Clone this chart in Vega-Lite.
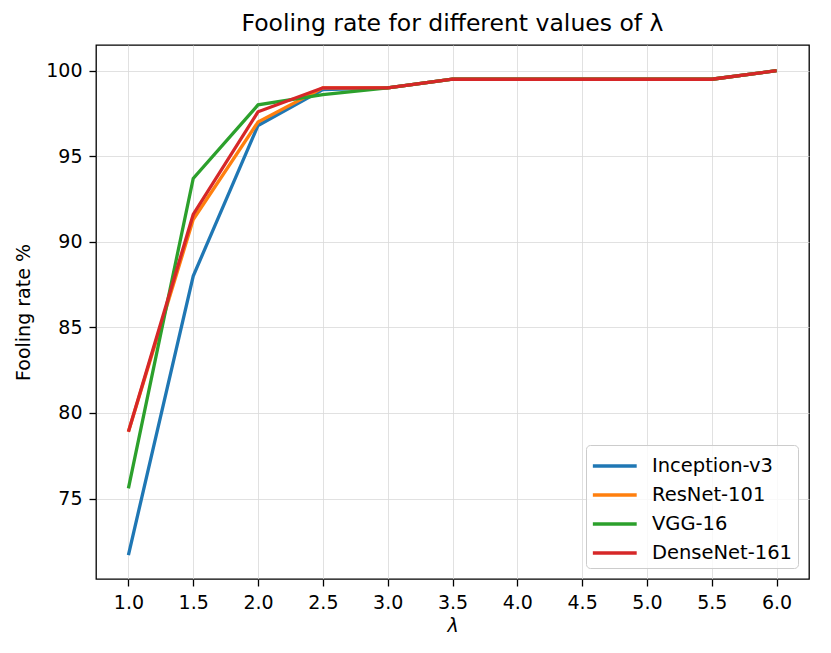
{
  "$schema": "https://vega.github.io/schema/vega-lite/v6.json",
  "autosize": {"type": "none"},
  "padding": {"left": 96, "top": 45, "right": 22, "bottom": 74},
  "width": 713,
  "height": 534,
  "background": "white",
  "title": {
    "text": "Fooling rate for different values of λ",
    "font": "DejaVu Sans",
    "fontSize": 23.5,
    "fontWeight": "normal",
    "color": "black",
    "offset": 10
  },
  "data": {
    "values": [
      {"lambda": 1.0, "model": "Inception-v3", "rate": 71.7},
      {"lambda": 1.5, "model": "Inception-v3", "rate": 88.0},
      {"lambda": 2.0, "model": "Inception-v3", "rate": 96.8},
      {"lambda": 2.5, "model": "Inception-v3", "rate": 98.9},
      {"lambda": 3.0, "model": "Inception-v3", "rate": 99.0},
      {"lambda": 3.5, "model": "Inception-v3", "rate": 99.5},
      {"lambda": 4.0, "model": "Inception-v3", "rate": 99.5},
      {"lambda": 4.5, "model": "Inception-v3", "rate": 99.5},
      {"lambda": 5.0, "model": "Inception-v3", "rate": 99.5},
      {"lambda": 5.5, "model": "Inception-v3", "rate": 99.5},
      {"lambda": 6.0, "model": "Inception-v3", "rate": 100.0},
      {"lambda": 1.0, "model": "ResNet-101", "rate": 78.9},
      {"lambda": 1.5, "model": "ResNet-101", "rate": 91.3},
      {"lambda": 2.0, "model": "ResNet-101", "rate": 97.0},
      {"lambda": 2.5, "model": "ResNet-101", "rate": 99.0},
      {"lambda": 3.0, "model": "ResNet-101", "rate": 99.0},
      {"lambda": 3.5, "model": "ResNet-101", "rate": 99.5},
      {"lambda": 4.0, "model": "ResNet-101", "rate": 99.5},
      {"lambda": 4.5, "model": "ResNet-101", "rate": 99.5},
      {"lambda": 5.0, "model": "ResNet-101", "rate": 99.5},
      {"lambda": 5.5, "model": "ResNet-101", "rate": 99.5},
      {"lambda": 6.0, "model": "ResNet-101", "rate": 100.0},
      {"lambda": 1.0, "model": "VGG-16", "rate": 75.6},
      {"lambda": 1.5, "model": "VGG-16", "rate": 93.7},
      {"lambda": 2.0, "model": "VGG-16", "rate": 98.0},
      {"lambda": 2.5, "model": "VGG-16", "rate": 98.6},
      {"lambda": 3.0, "model": "VGG-16", "rate": 99.0},
      {"lambda": 3.5, "model": "VGG-16", "rate": 99.5},
      {"lambda": 4.0, "model": "VGG-16", "rate": 99.5},
      {"lambda": 4.5, "model": "VGG-16", "rate": 99.5},
      {"lambda": 5.0, "model": "VGG-16", "rate": 99.5},
      {"lambda": 5.5, "model": "VGG-16", "rate": 99.5},
      {"lambda": 6.0, "model": "VGG-16", "rate": 100.0},
      {"lambda": 1.0, "model": "DenseNet-161", "rate": 78.9},
      {"lambda": 1.5, "model": "DenseNet-161", "rate": 91.6},
      {"lambda": 2.0, "model": "DenseNet-161", "rate": 97.6},
      {"lambda": 2.5, "model": "DenseNet-161", "rate": 99.0},
      {"lambda": 3.0, "model": "DenseNet-161", "rate": 99.0},
      {"lambda": 3.5, "model": "DenseNet-161", "rate": 99.5},
      {"lambda": 4.0, "model": "DenseNet-161", "rate": 99.5},
      {"lambda": 4.5, "model": "DenseNet-161", "rate": 99.5},
      {"lambda": 5.0, "model": "DenseNet-161", "rate": 99.5},
      {"lambda": 5.5, "model": "DenseNet-161", "rate": 99.5},
      {"lambda": 6.0, "model": "DenseNet-161", "rate": 100.0}
    ]
  },
  "mark": {"type": "line", "strokeWidth": 3.3, "clip": true},
  "encoding": {
    "x": {
      "field": "lambda",
      "type": "quantitative",
      "scale": {"domain": [0.75, 6.25], "nice": false, "zero": false},
      "axis": {
        "title": "λ",
        "titleFontStyle": "italic",
        "values": [1.0, 1.5, 2.0, 2.5, 3.0, 3.5, 4.0, 4.5, 5.0, 5.5, 6.0],
        "format": ".1f",
        "titlePadding": 4
      }
    },
    "y": {
      "field": "rate",
      "type": "quantitative",
      "scale": {"domain": [70.3, 101.5], "nice": false, "zero": false},
      "axis": {
        "title": "Fooling rate %",
        "values": [75, 80, 85, 90, 95, 100],
        "titlePadding": 12
      }
    },
    "color": {
      "field": "model",
      "type": "nominal",
      "sort": ["Inception-v3", "ResNet-101", "VGG-16", "DenseNet-161"],
      "scale": {
        "domain": ["Inception-v3", "ResNet-101", "VGG-16", "DenseNet-161"],
        "range": ["#1f77b4", "#ff7f0e", "#2ca02c", "#d62728"]
      },
      "legend": {
        "title": null,
        "orient": "bottom-right",
        "offset": 11,
        "symbolType": "M-1,0H2.1",
        "symbolStrokeWidth": 3.3,
        "symbolSize": 800,
        "labelFontSize": 19.5,
        "labelFont": "DejaVu Sans",
        "labelColor": "black",
        "labelOffset": 29,
        "rowPadding": 3,
        "padding": 5,
        "strokeColor": "#cccccc",
        "fillColor": "rgba(255,255,255,0.8)",
        "cornerRadius": 4
      }
    }
  },
  "config": {
    "font": "DejaVu Sans",
    "view": {"stroke": "black", "strokeWidth": 1.3},
    "axis": {
      "grid": true,
      "gridColor": "#d9d9d9",
      "gridWidth": 0.8,
      "domain": false,
      "tickColor": "black",
      "tickSize": 7,
      "tickWidth": 1.3,
      "labelFontSize": 19,
      "labelColor": "black",
      "labelFont": "DejaVu Sans",
      "labelPadding": 7,
      "titleFontSize": 19,
      "titleFontWeight": "normal",
      "titleColor": "black",
      "titleFont": "DejaVu Sans"
    }
  }
}
